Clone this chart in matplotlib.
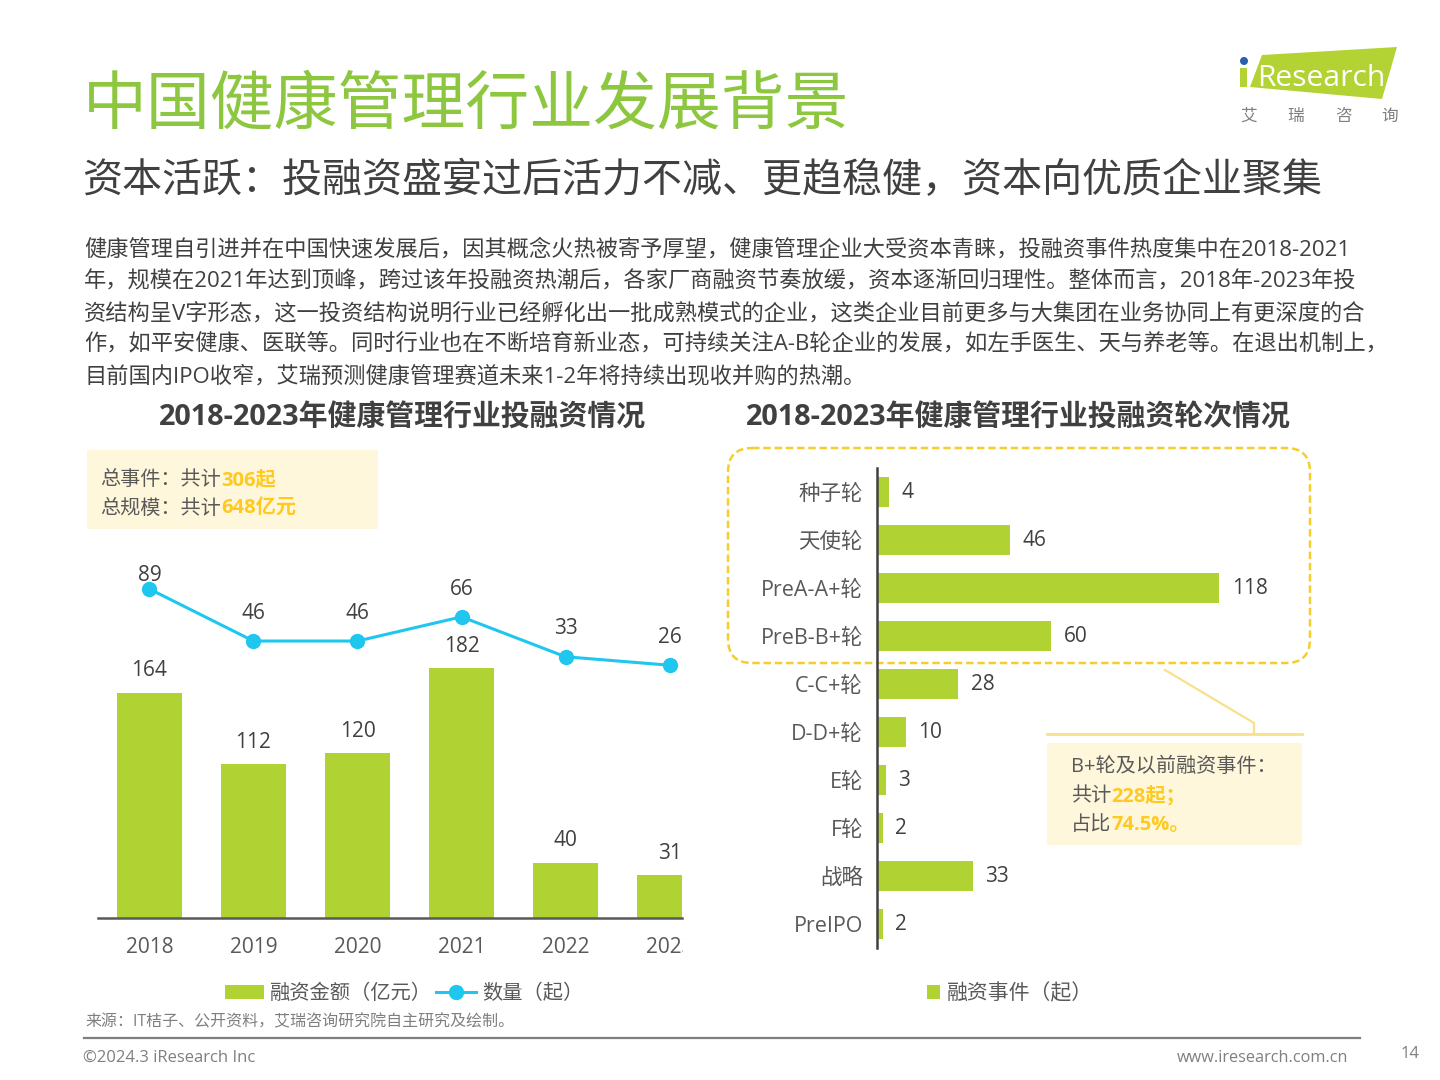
import matplotlib
matplotlib.use("Agg")
import matplotlib.pyplot as plt
from matplotlib.patches import FancyBboxPatch, Polygon, Rectangle, Circle
from matplotlib.transforms import Bbox, TransformedBbox, Affine2D

plt.rcParams["font.family"] = ["Open Sans", "Noto Sans CJK SC", "DejaVu Sans"]

years = ["2018", "2019", "2020", "2021", "2022", "2023"]
amount = [164, 112, 120, 182, 40, 31]
count = [89, 46, 46, 66, 33, 26]
rounds = ["种子轮", "天使轮", "PreA-A+轮", "PreB-B+轮", "C-C+轮", "D-D+轮", "E轮", "F轮", "战略", "PreIPO"]
events = [4, 46, 118, 60, 28, 10, 3, 2, 33, 2]
body = [
    "健康管理自引进并在中国快速发展后，因其概念火热被寄予厚望，健康管理企业大受资本青睐，投融资事件热度集中在2018-2021",
    "年，规模在2021年达到顶峰，跨过该年投融资热潮后，各家厂商融资节奏放缓，资本逐渐回归理性。整体而言，2018年-2023年投",
    "资结构呈V字形态，这一投资结构说明行业已经孵化出一批成熟模式的企业，这类企业目前更多与大集团在业务协同上有更深度的合",
    "作，如平安健康、医联等。同时行业也在不断培育新业态，可持续关注A-B轮企业的发展，如左手医生、天与养老等。在退出机制上，",
    "目前国内IPO收窄，艾瑞预测健康管理赛道未来1-2年将持续出现收并购的热潮。",
]

GREEN = "#B0D232"
CYAN = "#1FC6EE"
DARK = "#595959"
GOLD = "#FFC91F"
W, H = 1440, 1080

fig = plt.figure(figsize=(14.4, 10.8), dpi=100)
# page layer in pixel coordinates, y down
bg = fig.add_axes([0, 0, 1, 1], zorder=0)
bg.set_xlim(0, W)
bg.set_ylim(H, 0)
bg.axis("off")


def axes_px(x0, y0, x1, y1, **kw):
    return fig.add_axes([x0 / W, 1 - y1 / H, (x1 - x0) / W, (y1 - y0) / H], **kw)


def rich(x, y, parts, size):
    # runs of text with different colours on one line
    r = fig.canvas.get_renderer()
    for s, color, weight in parts:
        t = bg.text(x, y, s, fontsize=size, color=color, weight=weight, va="center", ha="left")
        box = t.get_window_extent(r)
        x += box.width
    return x


# header
bg.text(83, 107, "中国健康管理行业发展背景", fontsize=46, color="#8DC63F", va="center")
bg.text(82, 182, "资本活跃：投融资盛宴过后活力不减、更趋稳健，资本向优质企业聚集", fontsize=28.8, color="#404040", va="center")
for i, line in enumerate(body):
    bg.text(84, 250 + i * 31.7, line, fontsize=16, color="#404040", va="center")
bg.text(402, 418, "2018-2023年健康管理行业投融资情况", fontsize=20.8, weight="bold", color="#404040", ha="center", va="center")
bg.text(1018, 418, "2018-2023年健康管理行业投融资轮次情况", fontsize=20.8, weight="bold", color="#404040", ha="center", va="center")

# logo
bg.add_patch(Polygon([(1262, 55), (1397, 47), (1382, 99), (1250, 87)], color="#B3D334", lw=0))
bg.add_patch(Rectangle((1240, 68), 7, 19, color="#B3D334", lw=0))
bg.add_patch(Circle((1244, 61), 4, color="#2B5FA8", lw=0))
bg.text(1257, 78, "Research", fontsize=21.6, color="white", va="center", family="Open Sans")
for x, ch in zip([1249, 1296, 1343, 1390], "艾瑞咨询"):
    bg.text(x, 117, ch, fontsize=12, color="#7F7F7F", ha="center", va="center")

# note boxes
bg.add_patch(Rectangle((87, 450), 291, 79, color="#FFF7DC", lw=0))
rich(100, 480, [("总事件：共计", DARK, "normal"), ("306起", GOLD, "bold")], 14.5)
rich(100, 509, [("总规模：共计", DARK, "normal"), ("648亿元", GOLD, "bold")], 14.5)

bg.add_patch(FancyBboxPatch((752, 472), 534, 167, boxstyle="round,pad=24,rounding_size=24", fc="none",
                            ec="#F5CE2E", lw=1.8, ls=(0, (3, 1.5))))
bg.plot([1165, 1254, 1254], [670, 723, 734], color="#F9E08A", lw=1.6)
bg.plot([1047, 1302], [734, 734], color="#F9E08A", lw=2)
bg.add_patch(Rectangle((1047, 743), 255, 102, color="#FFF7DC", lw=0))
bg.text(1071, 767, "B+轮及以前融资事件：", fontsize=14.5, color=DARK, va="center")
rich(1071, 796, [("共计", DARK, "normal"), ("228起；", GOLD, "bold")], 14.5)
rich(1071, 825, [("占比", DARK, "normal"), ("74.5%。", GOLD, "bold")], 14.5)

# left chart
ax = axes_px(98, 560, 682, 918, zorder=2)
ax.patch.set_alpha(0)
xs = list(range(len(years)))
bars = ax.bar(xs, amount, width=0.625, color=GREEN, label="融资金额（亿元）")
ax.set_xlim(-0.495, 5.12)
ax.set_ylim(0, 261)
ax.set_yticks([])
ax.set_xticks(xs, years)
ax.tick_params(axis="x", length=0, pad=13.5, labelsize=15, labelcolor=DARK)
for lab in ax.get_xticklabels():
    lab.set_clip_on(True)
    lab.set_clip_box(TransformedBbox(Bbox([[0, 0], [683, 1080]]), Affine2D()))
for s in ["top", "left", "right"]:
    ax.spines[s].set_visible(False)
ax.spines["bottom"].set_color(DARK)
ax.spines["bottom"].set_linewidth(1.8)
ax.bar_label(bars, padding=8.5, fontsize=15, color="#404040")

ax2 = ax.twinx()
ax2.patch.set_alpha(0)
line, = ax2.plot(xs, count, "-o", color=CYAN, lw=2.2, ms=10, label="数量（起）", clip_on=False)
ax2.set_ylim(-183, 113)
ax2.set_yticks([])
for s in ax2.spines.values():
    s.set_visible(False)
for i, (x, v) in enumerate(zip(xs, count)):
    ax2.annotate(str(v), (x, v), xytext=(0, 10 if i == 0 else 20), textcoords="offset points",
                 ha="center", va="center", fontsize=15, color="#404040")
fig.legend(handles=[bars, line], loc="center", bbox_to_anchor=(404 / W, 1 - 994 / H), ncols=2, frameon=False,
           fontsize=14.6, labelcolor=DARK, handlelength=1.95, handleheight=0.65, handletextpad=0.3, columnspacing=0.2)

# right chart
ax3 = axes_px(877, 468, 1320, 948, zorder=2)
ax3.patch.set_alpha(0)
ys = list(range(len(rounds)))
bars3 = ax3.barh(ys, events, height=0.64, color=GREEN, label="融资事件（起）")
ax3.set_xlim(0, 152.7)
ax3.set_ylim(9.5, -0.5)
ax3.set_xticks([])
ax3.set_yticks(ys, rounds)
ax3.tick_params(axis="y", length=0, pad=10, labelsize=15.5, labelcolor=DARK)
for s in ["top", "bottom", "right"]:
    ax3.spines[s].set_visible(False)
ax3.spines["left"].set_color("#404040")
ax3.spines["left"].set_linewidth(1.8)
ax3.bar_label(bars3, padding=9, fontsize=15, color="#404040")
fig.legend(handles=[bars3], loc="center", bbox_to_anchor=(1010 / W, 1 - 993.5 / H), frameon=False, fontsize=15,
           labelcolor=DARK, handlelength=0.65, handleheight=0.65, handletextpad=0.35)

# footer
bg.text(85, 1022, "来源：IT桔子、公开资料，艾瑞咨询研究院自主研究及绘制。", fontsize=11.5, color="#7F7F7F", va="center")
bg.plot([84, 1360], [1038, 1038], color="#7F7F7F", lw=1.6)
bg.text(83, 1058, "©2024.3 iResearch Inc", fontsize=12, color="#7F7F7F", va="center")
bg.text(1348, 1058, "www.iresearch.com.cn", fontsize=11.7, color="#7F7F7F", va="center", ha="right")
bg.text(1420, 1054, "14", fontsize=12, color="#7F7F7F", va="center", ha="right")

fig.savefig("out.png", dpi=100)
